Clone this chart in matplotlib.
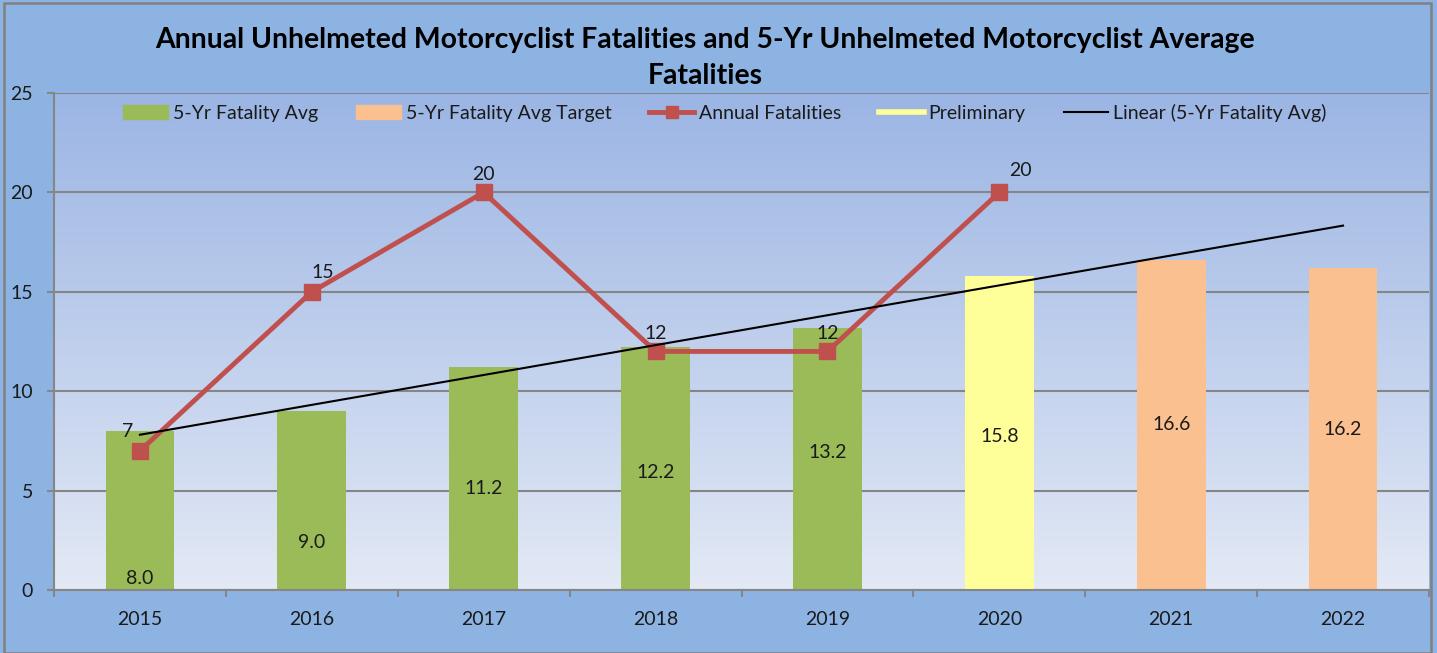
import matplotlib
matplotlib.use("Agg")
import matplotlib.pyplot as plt
import numpy as np
from matplotlib.patches import Patch, Rectangle
from matplotlib.lines import Line2D
from matplotlib.colors import LinearSegmentedColormap

plt.rcParams['font.family'] = ['Lato', 'DejaVu Sans']

# ---- data ----
years = ['2015', '2016', '2017', '2018', '2019', '2020', '2021', '2022']
avg_values = [8.0, 9.0, 11.2, 12.2, 13.2, 15.8, 16.6, 16.2]
avg_status = ['avg', 'avg', 'avg', 'avg', 'avg', 'prelim', 'target', 'target']
annual_years = ['2015', '2016', '2017', '2018', '2019', '2020']
annual_values = [7, 15, 20, 12, 12, 20]
yticks = [0, 5, 10, 15, 20, 25]
title = "Annual Unhelmeted Motorcyclist Fatalities and 5-Yr Unhelmeted Motorcyclist Average\nFatalities"

# ---- style ----
status_color = {'avg': '#9BBB59', 'prelim': '#FFFF99', 'target': '#FAC090'}
bar_label_y = [0.6, 2.4, 5.1, 5.9, 6.9, 7.7, 8.3, 8.05]   # label placement (data units)
annual_label_off = [(-9, 8), (8, 8), (0, 7), (0, 7), (0, 7), (15, 10)]  # points
fig_bg = '#8DB3E2'
FS = 14

W, H = 1437, 653
fig = plt.figure(figsize=(W / 100, H / 100), dpi=100)
fig.patch.set_facecolor(fig_bg)

L, R, T, B = 54, 1429, 93, 590
ax = fig.add_axes([L / W, 1 - B / H, (R - L) / W, (B - T) / H])

# gradient background
cmap = LinearSegmentedColormap.from_list('bg', ['#9BB5E4', '#E3E9F5'])
grad = np.linspace(0, 1, 256).reshape(-1, 1)
ax.imshow(grad, cmap=cmap, aspect='auto', extent=[0, 1, 0, 1],
          transform=ax.transAxes, zorder=0)

x = np.arange(len(years))
ax.set_xlim(-0.5, len(years) - 0.5)
ax.set_ylim(0, 25)

ax.set_yticks(yticks)
ax.yaxis.grid(True, color='#868686', lw=1.5, zorder=1)
ax.set_axisbelow(True)

colors = [status_color[s] for s in avg_status]
ax.bar(x, avg_values, width=0.4, color=colors, zorder=2)
for xi, v, ly in zip(x, avg_values, bar_label_y):
    ax.text(xi, ly, f"{v:.1f}", ha='center', va='center', fontsize=FS, color='#1a1a1a', zorder=6)

ax_x = [years.index(y) for y in annual_years]
ax.plot(ax_x, annual_values, color='#C0504D', lw=3.5, marker='s', markersize=11.5,
        zorder=4)
for xi, v, off in zip(ax_x, annual_values, annual_label_off):
    ax.annotate(str(v), (xi, v), xytext=off, textcoords='offset points',
                ha='center', va='bottom', fontsize=FS, color='#1a1a1a', zorder=6)

# linear trendline fitted on the 5-yr averages (incl. preliminary)
n_fit = 6
coef = np.polyfit(x[:n_fit], avg_values[:n_fit], 1)
ax.plot(x, np.polyval(coef, x), color='black', lw=1.5, zorder=5)

# axes styling
for s in ['top', 'right']:
    ax.spines[s].set_visible(False)
for s in ['left', 'bottom']:
    ax.spines[s].set_color('#868686')
    ax.spines[s].set_linewidth(1.5)
    ax.spines[s].set_zorder(3)
ax.set_xticks(x)
ax.set_xticklabels(years)
ax.set_xticks(np.arange(-0.5, len(years)), minor=True)
ax.tick_params(axis='x', which='major', length=0, pad=15, labelsize=FS, labelcolor='#1a1a1a')
ax.tick_params(axis='x', which='minor', length=5, width=1.5, color='#868686', direction='out')
ax.tick_params(axis='y', length=5, width=1.5, color='#868686', pad=10, labelsize=FS,
               labelcolor='#1a1a1a')

# legend
handles = [Patch(color=status_color['avg']),
           Patch(color=status_color['target']),
           Line2D([], [], color='#C0504D', lw=3.5, marker='s', markersize=9),
           Line2D([], [], color='#FFFF99', lw=4),
           Line2D([], [], color='black', lw=1.5)]
labels = ['5-Yr Fatality Avg', '5-Yr Fatality Avg Target', 'Annual Fatalities',
          'Preliminary', 'Linear (5-Yr Fatality Avg)']
fig.legend(handles, labels, loc='center', bbox_to_anchor=(725 / W, 1 - 113 / H),
           ncol=5, frameon=False, fontsize=FS, handlelength=2.3, handletextpad=0.25,
           columnspacing=1.95, labelcolor='#1a1a1a')

fig.text(705 / W, 1 - 58 / H, title, ha='center', va='center', fontsize=20.4,
         fontweight='bold', color='black', linespacing=1.5)

fig.add_artist(Rectangle((4 / W, 0), 1427 / W, 1 - 3 / H, transform=fig.transFigure,
                         fill=False, edgecolor='#808080', lw=1.8))

fig.savefig('out.png', dpi=100, facecolor=fig_bg)
